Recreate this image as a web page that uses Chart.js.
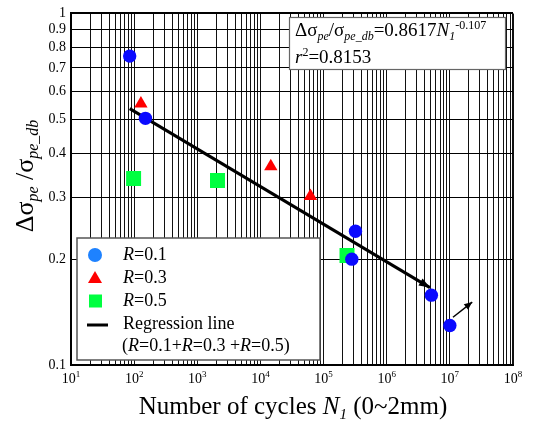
<!DOCTYPE html>
<html>
<head>
<meta charset="utf-8">
<script src="https://cdn.jsdelivr.net/npm/chart.js@4.4.1/dist/chart.umd.min.js"></script>
<style>
body { margin: 0; background: #fff; }
#wrap { width: 533px; height: 421px; }
</style>
</head>
<body>
<div id="wrap"><canvas id="chartFadiga" width="533" height="421"></canvas></div>
<script>
// R = 0.1
var r01N = [85, 151, 3.2e5, 2.8e5, 5.1e6, 1.0e7];
var r01S = [0.756, 0.503, 0.240, 0.200, 0.158, 0.1295];
// R = 0.3
var r03N = [128, 1.46e4, 6.2e4];
var r03S = [0.554, 0.367, 0.302];
// R = 0.5
var r05N = [98, 2090, 2.35e5];
var r05S = [0.339, 0.3346, 0.205];
// regression line (ends)
var regN = [85, 4.84e6];
var regS = [0.536, 0.166];
// run-out arrow
var runN = [1.12e7, 2.26e7];
var runS = [0.1367, 0.151];

var xExp = [1, 2, 3, 4, 5, 6, 7, 8];
var yTicks = [0.1, 0.2, 0.3, 0.4, 0.5, 0.6, 0.7, 0.8, 0.9, 1];
var legendText = ['=0.1', '=0.3', '=0.5'];

var SERIF = "'Liberation Serif', 'Times New Roman', serif";

function pts(xs, ys) {
    return xs.map(function (x, i) { return { x: x, y: ys[i] }; });
}

function richWidth(ctx, parts) {
    var w = 0;
    parts.forEach(function (p) { ctx.font = p[1]; w += ctx.measureText(p[0]).width; });
    return w;
}

function drawRich(ctx, parts, x, y) {
    parts.forEach(function (p) {
        ctx.font = p[1];
        ctx.fillText(p[0], x, y + (p[2] || 0));
        x += ctx.measureText(p[0]).width;
    });
    return x;
}

function arrowHead(ctx, x0, y0, x1, y1, len, half) {
    var a = Math.atan2(y1 - y0, x1 - x0);
    ctx.save();
    ctx.fillStyle = '#000';
    ctx.beginPath();
    ctx.moveTo(x1, y1);
    ctx.lineTo(x1 - len * Math.cos(a) + half * Math.sin(a), y1 - len * Math.sin(a) - half * Math.cos(a));
    ctx.lineTo(x1 - len * Math.cos(a) - half * Math.sin(a), y1 - len * Math.sin(a) + half * Math.cos(a));
    ctx.closePath();
    ctx.fill();
    ctx.restore();
}

var extras = {
    id: 'extras',
    afterDatasetDraw: function (chart, args) {
        if (args.index !== 3 && args.index !== 4) return;
        var d = args.meta.data;
        var p0 = d[0], p1 = d[1];
        if (args.index === 3) arrowHead(chart.ctx, p0.x, p0.y, p1.x, p1.y, 11, 4);
        else arrowHead(chart.ctx, p0.x, p0.y, p1.x, p1.y, 8, 3.5);
    },
    afterDraw: function (chart) {
        var ctx = chart.ctx;
        var xs = chart.scales.x;
        var area = chart.chartArea;
        ctx.save();
        ctx.fillStyle = '#000';
        ctx.textBaseline = 'alphabetic';

        // x tick labels 10^n
        xExp.forEach(function (e) {
            var px = xs.getPixelForValue(Math.pow(10, e));
            var parts = [['10', '14px ' + SERIF], [String(e), '9px ' + SERIF, -6]];
            var w = richWidth(ctx, parts);
            drawRich(ctx, parts, px - w / 2, area.bottom + 18);
        });

        // x title
        var xt = [['Number of cycles ', '25px ' + SERIF], ['N', 'italic 25px ' + SERIF],
                  ['1', 'italic 15px ' + SERIF, 5], [' (0~2mm)', '25px ' + SERIF]];
        var xw = richWidth(ctx, xt);
        drawRich(ctx, xt, 293 - xw / 2, 414);

        // y title
        var yt = [['\u0394\u03c3', '26px ' + SERIF], ['pe', 'italic 16px ' + SERIF, 5],
                  [' /\u03c3', '26px ' + SERIF], ['pe_db', 'italic 16px ' + SERIF, 5]];
        var yw = richWidth(ctx, yt);
        ctx.save();
        ctx.translate(33, 176);
        ctx.rotate(-Math.PI / 2);
        drawRich(ctx, yt, -yw / 2, 0);
        ctx.restore();

        // equation box
        ctx.fillStyle = '#fff';
        ctx.fillRect(289, 17, 217, 53);
        ctx.strokeStyle = '#666';
        ctx.lineWidth = 1.2;
        ctx.strokeRect(289.5, 17.5, 216, 52);
        ctx.fillStyle = '#000';
        drawRich(ctx, [['\u0394\u03c3', '19px ' + SERIF], ['pe', 'italic 12px ' + SERIF, 4],
                       ['/\u03c3', '19px ' + SERIF], ['pe_db', 'italic 12px ' + SERIF, 4],
                       ['=0.8617', '19px ' + SERIF], ['N', 'italic 19px ' + SERIF],
                       ['1', 'italic 12px ' + SERIF, 4], ['-0.107', '12px ' + SERIF, -7]], 295, 36);
        drawRich(ctx, [['r', 'italic 19px ' + SERIF], ['2', '12px ' + SERIF, -7],
                       ['=0.8153', '19px ' + SERIF]], 295, 63);

        // legend box
        ctx.fillStyle = '#fff';
        ctx.fillRect(77, 238, 243, 122);
        ctx.strokeStyle = '#555';
        ctx.lineWidth = 1.5;
        ctx.strokeRect(77, 238, 243, 122);

        ctx.fillStyle = '#1e82ff';
        ctx.beginPath();
        ctx.arc(95, 255, 7, 0, Math.PI * 2);
        ctx.fill();
        ctx.fillStyle = '#ff0000';
        ctx.beginPath();
        ctx.moveTo(95, 271);
        ctx.lineTo(102, 283);
        ctx.lineTo(88, 283);
        ctx.closePath();
        ctx.fill();
        ctx.fillStyle = '#00ff40';
        ctx.fillRect(89, 294.5, 13, 13);
        ctx.strokeStyle = '#000';
        ctx.lineWidth = 3;
        ctx.beginPath();
        ctx.moveTo(87, 325);
        ctx.lineTo(108, 325);
        ctx.stroke();

        ctx.fillStyle = '#000';
        var rows = [260, 283, 306];
        legendText.forEach(function (t, i) {
            drawRich(ctx, [['R', 'italic 18px ' + SERIF], [t, '18px ' + SERIF]], 123, rows[i]);
        });
        drawRich(ctx, [['Regression line', '18px ' + SERIF]], 123, 329);
        drawRich(ctx, [['(', '18px ' + SERIF], ['R', 'italic 18px ' + SERIF], ['=0.1+', '18px ' + SERIF],
                       ['R', 'italic 18px ' + SERIF], ['=0.3 +', '18px ' + SERIF],
                       ['R', 'italic 18px ' + SERIF], ['=0.5)', '18px ' + SERIF]], 122, 351);
        ctx.restore();
    }
};

var fadiga = document.getElementById('chartFadiga').getContext('2d');
var chart = new Chart(fadiga, {
    type: 'scatter',
    data: {
        datasets: [{
            label: 'R=0.1',
            data: pts(r01N, r01S),
            pointStyle: 'circle',
            pointRadius: 6.7,
            backgroundColor: '#0a0aff',
            borderWidth: 0
        }, {
            label: 'R=0.3',
            data: pts(r03N, r03S),
            pointStyle: 'triangle',
            pointRadius: 7.7,
            backgroundColor: '#ff0000',
            borderWidth: 0
        }, {
            label: 'R=0.5',
            data: pts(r05N, r05S),
            pointStyle: 'rect',
            pointRadius: 10.6,
            backgroundColor: '#00ff40',
            borderWidth: 0
        }, {
            label: 'Regression line',
            data: pts(regN, regS),
            showLine: true,
            borderColor: '#000',
            borderWidth: 3,
            pointRadius: 0
        }, {
            label: 'run-out',
            data: pts(runN, runS),
            showLine: true,
            borderColor: '#000',
            borderWidth: 1.5,
            pointRadius: 0
        }]
    },
    options: {
        responsive: false,
        animation: false,
        layout: { padding: { top: 11, right: 20, left: 0, bottom: 0 } },
        plugins: { legend: { display: false }, tooltip: { enabled: false } },
        scales: {
            x: {
                type: 'logarithmic',
                min: 10,
                max: 1e8,
                afterBuildTicks: function (scale) {
                    var t = [];
                    xExp.forEach(function (e, i) {
                        if (i === xExp.length - 1) { t.push({ value: Math.pow(10, e) }); return; }
                        for (var m = 1; m <= 9; m++) t.push({ value: m * Math.pow(10, e) });
                    });
                    scale.ticks = t;
                },
                afterFit: function (scale) { scale.height = 56; },
                ticks: { display: false, autoSkip: false },
                grid: {
                    color: '#111',
                    drawTicks: false,
                    lineWidth: function (c) { return c.tick && c.tick.value === 1e8 ? 2 : 1; }
                },
                border: { color: '#000', width: 2 }
            },
            y: {
                type: 'logarithmic',
                min: 0.1,
                max: 1,
                afterBuildTicks: function (scale) {
                    scale.ticks = yTicks.map(function (v) { return { value: v }; });
                },
                afterFit: function (scale) { scale.width = 71; },
                ticks: {
                    autoSkip: false,
                    padding: 5,
                    color: '#000',
                    font: { family: SERIF, size: 14 },
                    callback: function (v) { return String(Math.round(v * 10) / 10); }
                },
                grid: {
                    color: '#000',
                    drawTicks: false,
                    lineWidth: function (c) { return c.tick && c.tick.value === 1 ? 2 : 1; }
                },
                border: { color: '#000', width: 2 }
            }
        }
    },
    plugins: [extras]
});
</script>
</body>
</html>
